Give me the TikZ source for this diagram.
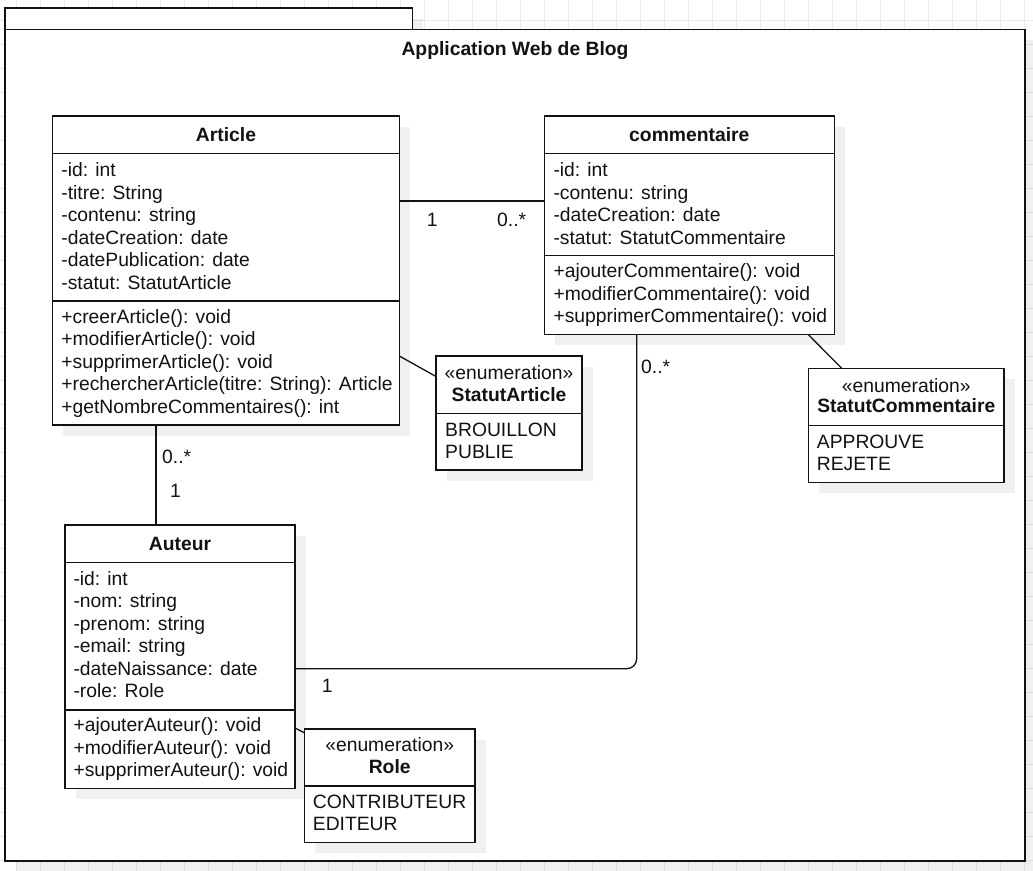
\documentclass[tikz,border=0pt]{standalone}
\usepackage{fontspec}
\setmainfont{Liberation Sans}
\usetikzlibrary{calc,shadows}
\definecolor{gridc}{RGB}{234,234,234}
\definecolor{ink}{RGB}{18,18,18}

\tikzset{
  labelfont/.style={font=\fontsize{19.3}{22.5}\selectfont, text=ink},
  boxshadow/.style={drop shadow={shadow xshift=10.5pt, shadow yshift=-10.5pt, opacity=0.06, fill=black}},
  umlbox/.style={draw=ink, line width=1.3pt, fill=white, anchor=north west, inner sep=0pt, outer sep=0pt, boxshadow},
  gridline/.style={draw=gridc, line width=0.9pt},
  link/.style={draw=ink, line width=1.3pt},
  txt/.style={labelfont, anchor=base west, inner sep=0pt},
  hdr/.style={labelfont, anchor=base, inner sep=0pt, font=\fontsize{19.3}{22.5}\selectfont\bfseries},
  stereo/.style={labelfont, anchor=base, inner sep=0pt},
  mult/.style={labelfont, anchor=base west, inner sep=0pt},
}

\begin{document}
\begin{tikzpicture}[x=1pt, y=-1pt]
\useasboundingbox (0,0) rectangle (1033,870);
\fill[white] (0,0) rectangle (1033,870);

% background grid
\foreach \gx in {0,...,42}
  \draw[gridline] ({16.5+24*\gx},0) -- ({16.5+24*\gx},870);
\foreach \gy in {0,...,35}
  \draw[gridline] (0,{20+24*\gy}) -- (1033,{20+24*\gy});

% package frame with its tab
\node[umlbox, minimum width=407.5pt, minimum height=21.3pt] (tab) at (5,8) {};
\node[umlbox, minimum width=1020pt, minimum height=831.4pt, line width=1.6pt] (frame) at (5,29.3) {};
\node[hdr] (title) at (515,55.7) {Application Web de Blog};

% class boxes
\node[umlbox, minimum width=346.6pt, minimum height=309pt] (art) at (52.7,116) {};
\node[umlbox, minimum width=290pt, minimum height=218.3pt] (com) at (544.3,116) {};
\node[umlbox, minimum width=230pt, minimum height=263.7pt] (aut) at (65,525) {};
\node[umlbox, minimum width=146pt, minimum height=114pt] (sa) at (436,356) {};
\node[umlbox, minimum width=195.3pt, minimum height=114.4pt] (sc) at (808.7,368.3) {};
\node[umlbox, minimum width=170.7pt, minimum height=113.7pt] (role) at (304.3,729) {};

% compartment separators
\draw[link] ($(art.north west)+(0,37.3)$) -- ($(art.north east)+(0,37.3)$);
\draw[link] ($(art.north west)+(0,185)$) -- ($(art.north east)+(0,185)$);
\draw[link] ($(com.north west)+(0,37.3)$) -- ($(com.north east)+(0,37.3)$);
\draw[link] ($(com.north west)+(0,139.7)$) -- ($(com.north east)+(0,139.7)$);
\draw[link] ($(aut.north west)+(0,37.3)$) -- ($(aut.north east)+(0,37.3)$);
\draw[link] ($(aut.north west)+(0,185)$) -- ($(aut.north east)+(0,185)$);
\draw[link] ($(sa.north west)+(0,57.3)$) -- ($(sa.north east)+(0,57.3)$);
\draw[link] ($(sc.north west)+(0,57.4)$) -- ($(sc.north east)+(0,57.4)$);
\draw[link] ($(role.north west)+(0,57)$) -- ($(role.north east)+(0,57)$);

% associations
\draw[link] ($(art.north east)+(0,85)$) -- ($(com.north west)+(0,85)$);
\draw[link] ($(art.south west)+(103.3,0)$) -- ($(aut.north west)+(91,0)$);
\draw[link] ($(art.north east)+(0,240)$) -- ($(sa.north west)+(0,20.5)$);
\draw[link] ($(com.south east)+(-26.3,0)$) -- ($(sc.north west)+(33,0)$);
\draw[link, rounded corners=10pt] ($(com.south west)+(92.4,0)$) |- ($(aut.north east)+(0,143.7)$);
\draw[link] ($(aut.north east)+(0,203)$) -- ($(role.north west)+(0,3.7)$);

% multiplicities
\node[mult] (m1) at (426.7,226.7) {1};
\node[mult] (m2) at (497,226.7) {0..*};
\node[mult] (m3) at (641,373) {0..*};
\node[mult] (m4) at (162,463.3) {0..*};
\node[mult] (m5) at (170,497.3) {1};
\node[mult] (m6) at (321.7,692.7) {1};

% Article
\node[hdr] (art-name) at (226,141.7) {Article};
\foreach \t [count=\i from 0] in {-id: int,-titre: String,-contenu: string,-dateCreation: date,-datePublication: date,-statut: StatutArticle}
  \node[txt] (art-a\i) at (61.2,{176.7+22.5*\i}) {\t};
\foreach \t [count=\i from 0] in {+creerArticle(): void,+modifierArticle(): void,+supprimerArticle(): void,+rechercherArticle(titre: String): Article,+getNombreCommentaires(): int}
  \node[txt] (art-m\i) at (61.2,{323.3+22.5*\i}) {\t};

% commentaire
\node[hdr] (com-name) at (689.3,141.7) {commentaire};
\foreach \t [count=\i from 0] in {-id: int,-contenu: string,-dateCreation: date,-statut: StatutCommentaire}
  \node[txt] (com-a\i) at (553.3,{176.7+22.5*\i}) {\t};
\foreach \t [count=\i from 0] in {+ajouterCommentaire(): void,+modifierCommentaire(): void,+supprimerCommentaire(): void}
  \node[txt] (com-m\i) at (553.3,{277.7+22.5*\i}) {\t};

% Auteur
\node[hdr] (aut-name) at (180,550) {Auteur};
\foreach \t [count=\i from 0] in {-id: int,-nom: string,-prenom: string,-email: string,-dateNaissance: date,-role: Role}
  \node[txt] (aut-a\i) at (73.3,{585+22.5*\i}) {\t};
\foreach \t [count=\i from 0] in {+ajouterAuteur(): void,+modifierAuteur(): void,+supprimerAuteur(): void}
  \node[txt] (aut-m\i) at (73.3,{731.7+22.5*\i}) {\t};

% enumerations
\node[stereo] (sa-st) at (509,379.3) {«enumeration»};
\node[hdr] (sa-name) at (509,401) {StatutArticle};
\node[txt] (sa-l0) at (445,436) {BROUILLON};
\node[txt] (sa-l1) at (445,458.3) {PUBLIE};

\node[stereo] (sc-st) at (906.3,392.7) {«enumeration»};
\node[hdr] (sc-name) at (906.3,412.5) {StatutCommentaire};
\node[txt] (sc-l0) at (816.7,448.3) {APPROUVE};
\node[txt] (sc-l1) at (816.7,470.5) {REJETE};

\node[stereo] (role-st) at (389.7,751.7) {«enumeration»};
\node[hdr] (role-name) at (389.7,773.3) {Role};
\node[txt] (role-l0) at (312.7,808.3) {CONTRIBUTEUR};
\node[txt] (role-l1) at (312.7,830.7) {EDITEUR};
\end{tikzpicture}
\end{document}
